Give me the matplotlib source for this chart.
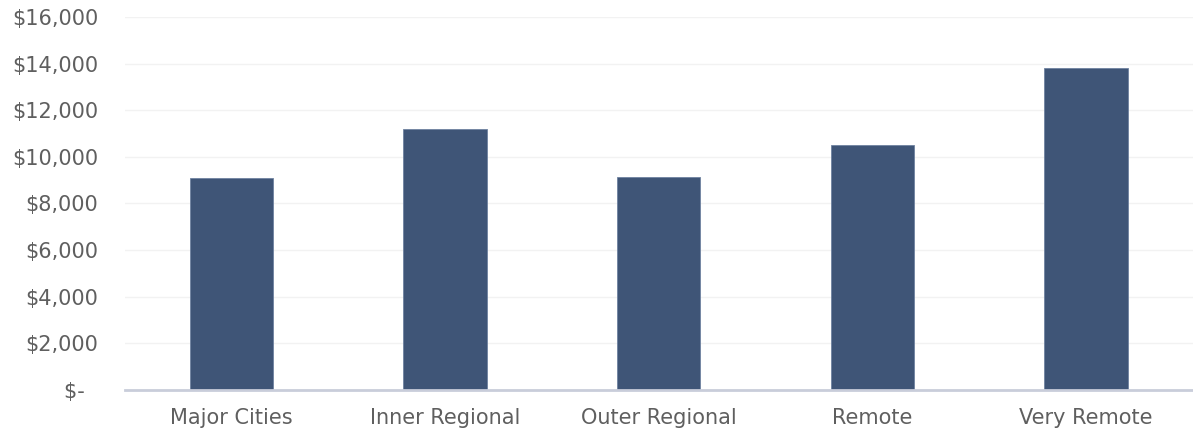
import matplotlib
matplotlib.use("Agg")
import matplotlib.pyplot as plt
from matplotlib.ticker import FuncFormatter

categories = ["Major Cities", "Inner Regional", "Outer Regional", "Remote", "Very Remote"]
values = [9100, 11200, 9150, 10500, 13800]
y_ticks = [0, 2000, 4000, 6000, 8000, 10000, 12000, 14000, 16000]

plt.rcParams["font.family"] = ["DejaVu Sans"]

fig = plt.figure(figsize=(11.93, 4.37), dpi=100)
ax = fig.add_axes([0.1044, 0.1076, 0.8956, 0.8535])

x = range(len(categories))
ax.bar(x, values, width=0.39, color="#3F5577", edgecolor="#6F82A0", linewidth=0.6, zorder=3)

ax.set_xlim(-0.5, len(categories) - 0.5)
ax.set_ylim(0, 16000)
ax.set_yticks(y_ticks)
ax.set_xticks(list(x))
ax.set_xticklabels(categories)


def money(v, _pos):
    if v == 0:
        return "$-  "
    return f"${v:,.0f}"


ax.yaxis.set_major_formatter(FuncFormatter(money))
ax.grid(axis="y", color="#F2F2F2", linewidth=1, zorder=0)
for side in ("top", "right", "left"):
    ax.spines[side].set_visible(False)
ax.spines["bottom"].set_color("#C9CDDA")
ax.spines["bottom"].set_linewidth(2)
ax.spines["bottom"].set_zorder(4)

ax.tick_params(axis="y", length=0, pad=19, labelsize=15, labelcolor="#5F5F5F")
ax.tick_params(axis="x", length=0, pad=13, labelsize=15, labelcolor="#5F5F5F")

fig.savefig("out.png", dpi=100, facecolor="white")
